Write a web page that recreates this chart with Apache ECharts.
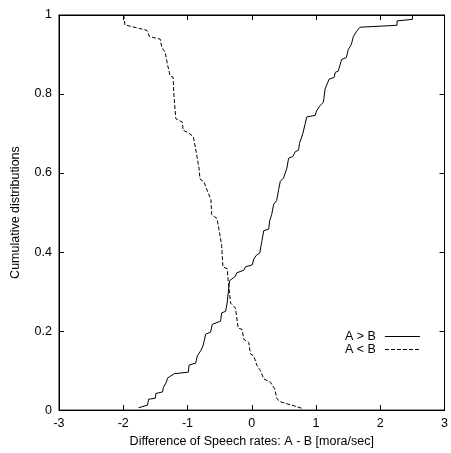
<!DOCTYPE html>
<html>
<head>
<meta charset="utf-8">
<script src="https://cdn.jsdelivr.net/npm/echarts@6/dist/echarts.min.js"></script>
<style>
html,body{margin:0;padding:0;background:#fff;}
#chart{width:451px;height:453px;}
</style>
</head>
<body>
<div id="chart"></div>
<script>
// A > B (solid) cumulative distribution vertices
var solidX = [-1.761,-1.622,-1.606,-1.502,-1.492,-1.389,-1.374,-1.327,-1.312,-1.208,-0.987,-0.976,-0.872,-0.847,-0.795,-0.759,-0.717,-0.640,-0.615,-0.485,-0.469,-0.407,-0.383,-0.356,-0.345,-0.253,-0.233,-0.124,-0.098,0.008,0.031,0.073,0.124,0.159,0.186,0.263,0.279,0.310,0.341,0.387,0.418,0.444,0.495,0.547,0.573,0.640,0.677,0.728,0.743,0.795,0.831,0.856,0.986,1.011,1.064,1.115,1.141,1.203,1.281,1.301,1.347,1.398,1.471,1.502,1.549,1.580,1.626,1.683,2.261,2.261,2.501,2.501];
var solidY = [0.006,0.0125,0.0275,0.030,0.042,0.046,0.058,0.071,0.081,0.092,0.096,0.114,0.119,0.1375,0.15,0.1625,0.192,0.1975,0.217,0.225,0.246,0.25,0.271,0.3125,0.3275,0.339,0.3475,0.354,0.3625,0.3675,0.3825,0.392,0.3975,0.429,0.454,0.458,0.479,0.495,0.521,0.53,0.558,0.579,0.5875,0.6125,0.6375,0.642,0.654,0.658,0.675,0.70,0.725,0.742,0.746,0.758,0.771,0.779,0.8125,0.8375,0.842,0.855,0.858,0.8875,0.892,0.9125,0.925,0.945,0.9575,0.969,0.974,0.985,0.989,1.0];
// A < B (dashed) cumulative distribution vertices
var dashedX = [-1.993,-1.975,-1.952,-1.750,-1.631,-1.595,-1.518,-1.425,-1.399,-1.348,-1.312,-1.270,-1.224,-1.213,-1.182,-1.080,-1.069,-0.991,-0.909,-0.875,-0.821,-0.806,-0.744,-0.697,-0.635,-0.624,-0.542,-0.511,-0.469,-0.449,-0.383,-0.367,-0.330,-0.253,-0.212,-0.150,-0.124,-0.047,-0.020,0.031,0.082,0.135,0.186,0.290,0.356,0.392,0.444,0.624,0.790];
var dashedY = [1.0,0.975,0.9725,0.966,0.961,0.946,0.9425,0.939,0.917,0.906,0.875,0.846,0.8425,0.80,0.7375,0.729,0.708,0.7025,0.692,0.6625,0.6125,0.585,0.5775,0.5575,0.5325,0.495,0.485,0.458,0.417,0.3625,0.358,0.329,0.271,0.258,0.208,0.204,0.179,0.171,0.142,0.1375,0.1125,0.10,0.079,0.071,0.054,0.029,0.021,0.0125,0.004];
var seriesNames = ['A > B', 'A < B'];
var xTicks = {min: -3, max: 3, interval: 1};
var yTicks = {min: 0, max: 1, interval: 0.2};

function pairs(xs, ys){ return xs.map(function(x,i){ return [x, ys[i]]; }); }

var font = 'Liberation Sans, Arial, Helvetica, sans-serif';
var chart = echarts.init(document.getElementById('chart'), null, {renderer:'canvas'});
var tickStyle = {show:true, inside:true, length:5, lineStyle:{color:'#000', width:1}};
chart.setOption({
  animation: false,
  backgroundColor: '#fff',
  grid: {left: 59, right: 5, top: 15, bottom: 38, show: true, borderColor: '#000', borderWidth: 1, containLabel: false},
  xAxis: [
    {type:'value', min:xTicks.min, max:xTicks.max, interval:xTicks.interval, position:'bottom',
     name:'Difference of Speech rates: A - B [mora/sec]', nameLocation:'middle', nameGap:24,
     nameTextStyle:{fontFamily:font, fontSize:12.5, color:'#000'},
     axisLine:{show:true, onZero:false, lineStyle:{color:'#000', width:1}},
     axisTick: tickStyle, splitLine:{show:false},
     axisLabel:{fontFamily:font, fontSize:12.5, color:'#000', margin:7}},
    {type:'value', min:xTicks.min, max:xTicks.max, interval:xTicks.interval, position:'top',
     axisLine:{show:true, onZero:false, lineStyle:{color:'#000', width:1}},
     axisTick: tickStyle, splitLine:{show:false}, axisLabel:{show:false}}
  ],
  yAxis: [
    {type:'value', min:yTicks.min, max:yTicks.max, interval:yTicks.interval, position:'left',
     name:'Cumulative distributions', nameLocation:'middle', nameGap:37, nameRotate:90,
     nameTextStyle:{fontFamily:font, fontSize:12.5, color:'#000'},
     axisLine:{show:true, onZero:false, lineStyle:{color:'#000', width:1}},
     axisTick: tickStyle, splitLine:{show:false},
     axisLabel:{fontFamily:font, fontSize:12.5, color:'#000', margin:7}},
    {type:'value', min:yTicks.min, max:yTicks.max, interval:yTicks.interval, position:'right',
     axisLine:{show:true, onZero:false, lineStyle:{color:'#000', width:1}},
     axisTick: tickStyle, splitLine:{show:false}, axisLabel:{show:false}}
  ],
  legend: {
    show: true,
    orient:'vertical', left:340, top:325, align:'right', itemGap:0,
    itemWidth:35, itemHeight:8,
    itemStyle:{color:'rgba(0,0,0,0)', borderColor:'rgba(0,0,0,0)', borderWidth:0},
    lineStyle:{width:1, color:'#000'},
    textStyle:{fontFamily:font, fontSize:12.5, color:'#000', lineHeight:13, padding:[0,4,0,0]},
    data: seriesNames
  },
  series: [
    {name:seriesNames[0], type:'line', data:pairs(solidX, solidY), symbol:'none', showSymbol:false,
     lineStyle:{color:'#000', width:1, type:'solid'}, itemStyle:{color:'#000'}},
    {name:seriesNames[1], type:'line', data:pairs(dashedX, dashedY), symbol:'none', showSymbol:false,
     lineStyle:{color:'#000', width:1, type:[4,2]}, itemStyle:{color:'#000'}}
  ]
});
</script>
</body>
</html>
